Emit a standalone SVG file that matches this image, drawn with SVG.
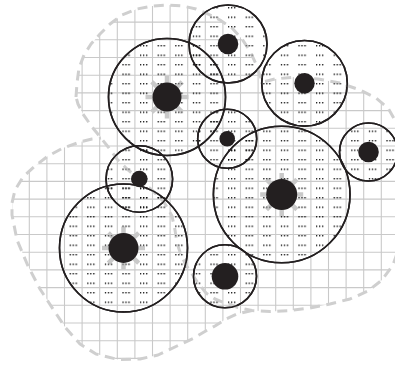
<svg xmlns="http://www.w3.org/2000/svg" width="395" height="368" viewBox="0 0 395 368">
<style>
.grid{fill:none;stroke:#c9c9c9;stroke-width:1.1}
.blob{fill:none;stroke:#cfcfcf;stroke-width:3;stroke-dasharray:10 6.5;stroke-linejoin:round}
.ring{fill:url(#dots);stroke:#231f20;stroke-width:1.6}
.core{fill:#231f20}
.ray{fill:none;stroke:#c9c9c9;stroke-width:4.5}
.dot{fill:#000}
</style>
<defs>
<pattern id="dots" patternUnits="userSpaceOnUse" x="12" y="3.3" width="17.6" height="9.5">
<rect class="dot" x="5" y="4" width="1" height="1"/>
<rect class="dot" x="8" y="4" width="1" height="1"/>
<rect class="dot" x="11" y="4" width="1" height="1"/>
</pattern>
<path id="rays" class="ray" d="M12 0H21.5M-12 0H-21.5M0 12V21.5M0 -12V-21.5M8.5 8.5L15.2 15.2M-8.5 8.5L-15.2 15.2M8.5 -8.5L15.2 -15.2M-8.5 -8.5L-15.2 -15.2"/>
<clipPath id="area">
<path d="M76,97 L77,83 79,68 84,55 91,44 100,34 110,24 122,15 137,9 152,6 168,5 183,6 196,9 208,14 220,20 232,28 242,39 250,51 256,64 260,76 263,82 275,79 295,77 318,79 340,83 360,90 376,98 388,108 396,122 402,140 406,180 405,220 400,245 393,265 382,280 368,291 350,299 330,304 310,308 290,310.5 270,311.5 252,310.5 238,307.5 225,303 215,299 206,293 198,283 192,274 186,265 181,255 177,243 175,230 172,216 164,202 152,190 139,179 127,169 117,159 109,148 101,138 92,127 83,114 78,104 Z"/>
<path d="M252,310.5 L237,314 226,319 215,326 204,332 194,338 177,346 158,355 140,359 118,359.5 96,354 80,344 65,327 53,309 40,289 28,266 17,240 12,215 12,203 15,190 23,177 35,166 48,156 63,148 80,142 92,139 101,138 L109,148 117,159 127,169 139,179 152,190 164,202 172,216 175,230 177,243 181,255 186,265 192,274 198,283 206,293 215,299 225,303 238,307.5 Z"/>
</clipPath>
</defs>
<g id="grid" clip-path="url(#area)">
<path class="grid" d="M11.7 0V368M29.3 0V368M46.9 0V368M64.5 0V368M82.1 0V368M99.7 0V368M117.3 0V368M134.9 0V368M152.5 0V368M170.1 0V368M187.7 0V368M205.3 0V368M222.9 0V368M240.5 0V368M258.1 0V368M275.7 0V368M293.3 0V368M310.9 0V368M328.5 0V368M346.1 0V368M363.7 0V368M381.3 0V368M0 4.4H395M0 22.1H395M0 39.8H395M0 57.5H395M0 75.2H395M0 92.9H395M0 110.6H395M0 128.3H395M0 146H395M0 163.7H395M0 181.4H395M0 199.1H395M0 216.8H395M0 234.5H395M0 252.2H395M0 269.9H395M0 287.6H395M0 305.3H395M0 323H395M0 340.7H395M0 358.4H395"/>
</g>
<g id="zone-fills">
<circle class="ring" cx="228" cy="44" r="39" stroke="none"/>
<circle class="ring" cx="167" cy="97" r="58.5" stroke="none"/>
<circle class="ring" cx="304.5" cy="83.3" r="42.8" stroke="none"/>
<circle class="ring" cx="227.2" cy="138.7" r="29.5" stroke="none"/>
<circle class="ring" cx="368.5" cy="152" r="29" stroke="none"/>
<circle class="ring" cx="281.7" cy="194.5" r="68.3" stroke="none"/>
<circle class="ring" cx="139.3" cy="179" r="33.3" stroke="none"/>
<circle class="ring" cx="123.5" cy="248" r="64" stroke="none"/>
<circle class="ring" cx="225" cy="276.3" r="31.5" stroke="none"/>
</g>
<g id="regions">
<path class="blob" d="M76,97 L77,83 79,68 84,55 91,44 100,34 110,24 122,15 137,9 152,6 168,5 183,6 196,9 208,14 220,20 232,28 242,39 250,51 256,64 260,76 263,82 275,79 295,77 318,79 340,83 360,90 376,98 388,108 396,122 402,140 406,180 405,220 400,245 393,265 382,280 368,291 350,299 330,304 310,308 290,310.5 270,311.5 252,310.5 238,307.5 225,303 215,299 206,293 198,283 192,274 186,265 181,255 177,243 175,230 172,216 164,202 152,190 139,179 127,169 117,159 109,148 101,138 92,127 83,114 78,104 Z"/>
<path class="blob" d="M252,310.5 L237,314 226,319 215,326 204,332 194,338 177,346 158,355 140,359 118,359.5 96,354 80,344 65,327 53,309 40,289 28,266 17,240 12,215 12,203 15,190 23,177 35,166 48,156 63,148 80,142 92,139 101,138"/>
</g>
<g id="node-1"><circle class="ring" cx="228" cy="44" r="39" fill="none"/><circle class="core" cx="228" cy="44" r="10.3"/></g>
<g id="node-2"><use href="#rays" x="167" y="97"/><circle class="ring" cx="167" cy="97" r="58.5" fill="none"/><circle class="core" cx="167" cy="97" r="14.5"/></g>
<g id="node-3"><circle class="ring" cx="304.5" cy="83.3" r="42.8" fill="none"/><circle class="core" cx="304.5" cy="83.3" r="10.2"/></g>
<g id="node-4"><circle class="ring" cx="227.2" cy="138.7" r="29.5" fill="none"/><circle class="core" cx="227.2" cy="138.7" r="7.8"/></g>
<g id="node-5"><circle class="ring" cx="368.5" cy="152" r="29" fill="none"/><circle class="core" cx="368.5" cy="152" r="10.3"/></g>
<g id="node-6"><use href="#rays" x="281.7" y="194.5"/><circle class="ring" cx="281.7" cy="194.5" r="68.3" fill="none"/><circle class="core" cx="281.7" cy="194.5" r="15.5"/></g>
<g id="node-7"><circle class="ring" cx="139.3" cy="179" r="33.3" fill="none"/><circle class="core" cx="139.3" cy="179" r="8.3"/></g>
<g id="node-8"><use href="#rays" x="123.5" y="248"/><circle class="ring" cx="123.5" cy="248" r="64" fill="none"/><circle class="core" cx="123.5" cy="248" r="15"/></g>
<g id="node-9"><circle class="ring" cx="225" cy="276.3" r="31.5" fill="none"/><circle class="core" cx="225" cy="276.3" r="13.3"/></g>
</svg>
